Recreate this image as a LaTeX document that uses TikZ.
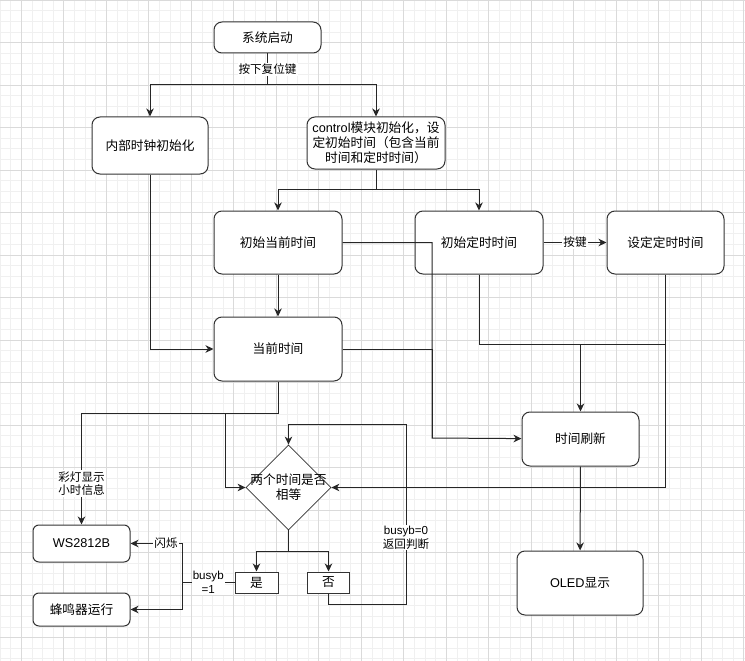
\documentclass[tikz,border=0pt]{standalone}
\usepackage{fontspec}
\setmainfont{Liberation Sans}
\newfontfamily\cjk{Noto Sans CJK SC}
\usepackage{tikz}
\usetikzlibrary{arrows.meta,shapes.geometric}
\definecolor{gridminor}{HTML}{F0F0F0}
\definecolor{gridmajor}{HTML}{DADADA}
\definecolor{stroke}{HTML}{333333}
\tikzset{%
    >={Stealth[length=8pt,width=7.5pt,inset=2.5pt]}
}
\newcommand{\zh}[1]{{\cjk #1}}

\begin{document}
\begin{tikzpicture}[x=1pt, y=-1pt,
    every node/.style={font=\fontsize{12.7}{15}\selectfont},
    box/.style={draw=stroke, line width=1pt, fill=white, rounded corners=8pt, align=center, inner sep=1pt},
    plainbox/.style={draw=stroke, line width=1pt, fill=white, inner sep=0pt},
    judgebox/.style={draw=stroke, line width=0.8pt, fill=white, diamond, minimum size=85pt, inner sep=0pt},
    lbl/.style={fill=white, inner sep=1pt, align=center, font=\fontsize{11.6}{13.8}\selectfont},
    link/.style={draw=black!85, line width=1pt}]
  \useasboundingbox (0,0) rectangle (745,661);
  \fill[white] (0,0) rectangle (745,661);
  \foreach \i in {0,...,70} \draw[gridminor, line width=0.6pt] ({\i*10.625},0) -- ({\i*10.625},661);
  \foreach \i in {0,...,62} \draw[gridminor, line width=0.6pt] (0,{\i*10.625}) -- (745,{\i*10.625});
  \foreach \i in {0,...,17} \draw[gridmajor, line width=0.7pt] ({21.25+\i*42.5},0) -- ({21.25+\i*42.5},661);
  \foreach \i in {0,...,15} \draw[gridmajor, line width=0.7pt] (0,{\i*42.5}) -- (745,{\i*42.5});

  \node[box, minimum width=107pt, minimum height=31pt] (start) at (267.5,37.5) {\zh{系统启动}};
  \node[box, minimum width=116pt, minimum height=57pt] (clk) at (150,145.5) {\zh{内部时钟初始化}};
  \node[box, minimum width=138pt, minimum height=52pt] (ctrl) at (376,143)
    {control\zh{模块初始化，设}\\\zh{定初始时间（包含当前}\\\zh{时间和定时时间）}};
  \node[box, minimum width=128pt, minimum height=63pt] (curinit) at (278,242.5) {\zh{初始当前时间}};
  \node[box, minimum width=128pt, minimum height=63pt] (setinit) at (479,242.5) {\zh{初始定时时间}};
  \node[box, minimum width=117pt, minimum height=63pt] (setkey) at (665.5,242.5) {\zh{设定定时时间}};
  \node[box, minimum width=128pt, minimum height=64pt] (cur) at (278,349) {\zh{当前时间}};
  \node[box, minimum width=117pt, minimum height=54pt] (refresh) at (580.5,439) {\zh{时间刷新}};
  \node[box, minimum width=126pt, minimum height=64pt] (oled) at (580,583) {OLED\zh{显示}};
  \node[judgebox, label={[align=center, font=\fontsize{12.7}{15}\selectfont]center:\zh{两个时间是否}\\\zh{相等}}] (judge) at (288.5,487.5) {};
  \node[plainbox, minimum width=43pt, minimum height=21pt] (yes) at (256.5,582.5) {\zh{是}};
  \node[plainbox, minimum width=42pt, minimum height=21pt] (no) at (328.5,582.5) {\zh{否}};
  \node[box, rounded corners=6pt, minimum width=97pt, minimum height=37pt] (ws) at (81.5,543.5) {WS2812B};
  \node[box, rounded corners=6pt, minimum width=97pt, minimum height=33pt] (buzz) at (81.5,609.5) {\zh{蜂鸣器运行}};

  \coordinate (splitA) at (267.5,85);
  \coordinate (splitB) at (376,189);
  \coordinate (mergeA) at (432,438);
  \coordinate (mergeB) at (580.5,344);
  \coordinate (splitC) at (278,413);
  \coordinate (splitD) at (225,413);
  \coordinate (splitJ) at (288.5,551);
  \coordinate (loopA) at (406,604);
  \coordinate (loopB) at (406,424);
  \coordinate (splitE) at (182,582.5);

  \draw[link] (start) -- node[lbl] {\zh{按下复位键}} (splitA);
  \draw[link,->] (splitA) -| (clk);
  \draw[link,->] (splitA) -| (ctrl);
  \draw[link] (ctrl) -- (splitB);
  \draw[link,->] (splitB) -| (curinit);
  \draw[link,->] (splitB) -| (setinit);
  \draw[link,->] (setinit) -- node[lbl] {\zh{按键}} (setkey);
  \draw[link,->] (curinit) -- (cur);
  \draw[link,->] (clk) |- (cur);
  \draw[link,->] (curinit) -| (mergeA) -- (refresh);
  \draw[link] (cur) -| (mergeA);
  \draw[link] (setinit) |- (mergeB);
  \draw[link] (setkey) |- (mergeB);
  \draw[link,->] (mergeB) -- (refresh);
  \draw[link,->] (setkey) |- (judge);
  \draw[link,->] (refresh) -- (oled);
  \draw[link,->] (cur) -- (splitC) -| node[lbl, pos=0.817] {\zh{彩灯显示}\\\zh{小时信息}} (ws);
  \draw[link,->] (splitD) |- (judge);
  \draw[link] (judge) -- (splitJ);
  \draw[link,->] (splitJ) -| (yes);
  \draw[link,->] (splitJ) -| (no);
  \draw[link,->] (no) |- (loopA) -- node[lbl, pos=0.37] {busyb=0\\\zh{返回判断}} (loopB) -| (judge);
  \draw[link] (yes) -- node[lbl] {busyb\\=1} (splitE);
  \draw[link,->] (splitE) |- node[lbl, pos=0.655] {\zh{闪烁}} (ws);
  \draw[link,->] (splitE) |- (buzz);
\end{tikzpicture}
\end{document}
